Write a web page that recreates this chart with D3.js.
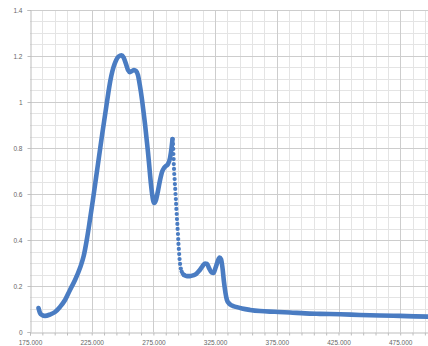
<!DOCTYPE html>
<html>
<head>
<meta charset="utf-8">
<script src="https://cdn.jsdelivr.net/npm/d3@7"></script>
<style>
  html, body { margin: 0; padding: 0; background: #fff; }
  svg { display: block; font-family: "Liberation Sans", Arial, sans-serif; }
</style>
</head>
<body>
<svg id="chart" width="428" height="346"></svg>
<script>
// UV absorbance spectrum: wavelength (nm) and absorbance readings
const wavelength = [
  181.9, 183.1, 184.7, 187.2, 191.2, 195.3, 199.3, 203.4, 207.4, 211.5,
  215.5, 218.5, 221.0, 223.5, 226.0, 228.5, 231.0, 233.5, 236.0, 238.2,
  240.0, 241.8, 243.4, 245.0, 246.8, 249.2, 250.8,
  252.8, 254.4, 256.0, 257.7, 259.3, 260.9, 262.5, 264.1, 265.8, 267.0,
  268.2, 269.4, 270.6, 271.8, 273.1, 274.3, 275.5, 277.1, 278.7, 280.4,
  282.0, 283.6, 285.2, 286.8, 288.5, 289.7, 290.5,
  290.9, 291.1, 291.2, 291.4, 291.5, 291.7, 291.9, 292.2, 292.4, 292.7,
  292.9, 293.2, 293.4, 293.6, 293.9, 294.1, 294.4, 294.6, 294.9, 295.1,
  295.3, 295.6, 295.9, 296.2, 296.6, 297.2, 297.9, 298.7,
  299.8, 302.2, 304.7, 307.1, 309.5, 311.9, 314.4, 316.8, 318.4, 320.1,
  322.1, 323.7, 325.3, 326.9, 328.6, 329.8, 331.0, 332.2, 333.4, 334.6,
  336.3, 338.7, 341.9, 346.8, 353.3, 361.4, 373.5, 385.7, 397.9, 410.0,
  426.2, 442.4, 458.6, 474.8, 487.0, 497.5
];
const absorbance = [
  0.104, 0.083, 0.074, 0.070, 0.076, 0.087, 0.109, 0.139, 0.183, 0.226,
  0.278, 0.330, 0.400, 0.485, 0.575, 0.670, 0.765, 0.860, 0.950, 1.030,
  1.090, 1.135, 1.163, 1.184, 1.198, 1.203, 1.194,
  1.165, 1.139, 1.130, 1.135, 1.139, 1.135, 1.117, 1.070, 1.009, 0.957,
  0.904, 0.843, 0.783, 0.713, 0.639, 0.587, 0.561, 0.574, 0.613, 0.661,
  0.696, 0.713, 0.722, 0.730, 0.757, 0.800, 0.839,
  0.817, 0.796, 0.774, 0.752, 0.730, 0.709, 0.687, 0.665, 0.643, 0.622,
  0.600, 0.578, 0.557, 0.535, 0.513, 0.491, 0.470, 0.448, 0.426, 0.404,
  0.383, 0.361, 0.339, 0.317, 0.296, 0.276, 0.263, 0.254,
  0.248, 0.243, 0.243, 0.246, 0.252, 0.265, 0.283, 0.298, 0.296, 0.278,
  0.259, 0.257, 0.278, 0.304, 0.324, 0.317, 0.278, 0.217, 0.170, 0.139,
  0.124, 0.115, 0.109, 0.102, 0.096, 0.091, 0.088, 0.085, 0.081, 0.079,
  0.077, 0.074, 0.072, 0.070, 0.068, 0.067
];

// the steep drop after the 290 nm band: samples are far apart there,
// so they show as separate markers instead of a continuous trace
const fallStart = 290.5;
const fallEnd = 299.8;

const xTickValues = [175, 225, 275, 325, 375, 425, 475];
const xTickLabels = ["175.000", "225.000", "275.000", "325.000", "375.000", "425.000", "475.000"];
const yTickValues = [0, 0.2, 0.4, 0.6, 0.8, 1, 1.2, 1.4];
const yTickLabels = ["0", "0.2", "0.4", "0.6", "0.8", "1", "1.2", "1.4"];

(function draw() {
  const svg = d3.select("#chart");
  const W = 428;
  const mLeft = 30, mTop = 10, mBottom = 332;

  const x = d3.scaleLinear().domain([175, 500]).range([mLeft, mLeft + 325 * 1.234]);
  const y = d3.scaleLinear().domain([0, 1.4]).range([mBottom, mTop]);
  const px = v => Math.round(v) + 0.5;

  // minor grid
  const minorX = d3.range(185, 500, 10).filter(v => (v - 175) % 50 !== 0);
  const minorY = d3.range(1, 28).map(i => i * 0.05).filter((v, i) => (i + 1) % 4 !== 0);

  const grid = svg.append("g");
  grid.selectAll(".mx").data(minorX).join("line")
    .attr("x1", d => px(x(d))).attr("x2", d => px(x(d)))
    .attr("y1", mTop).attr("y2", mBottom)
    .attr("stroke", "#e4e4e4").attr("stroke-width", 1);
  grid.selectAll(".my").data(minorY).join("line")
    .attr("x1", mLeft).attr("x2", W)
    .attr("y1", d => px(y(d))).attr("y2", d => px(y(d)))
    .attr("stroke", "#e4e4e4").attr("stroke-width", 1);

  // major grid
  grid.selectAll(".Mx").data(xTickValues.filter(v => v > 175)).join("line")
    .attr("x1", d => px(x(d))).attr("x2", d => px(x(d)))
    .attr("y1", mTop).attr("y2", mBottom)
    .attr("stroke", "#cdcdcd").attr("stroke-width", 1);
  grid.selectAll(".My").data(yTickValues.filter(v => v > 0)).join("line")
    .attr("x1", mLeft).attr("x2", W)
    .attr("y1", d => px(y(d))).attr("y2", d => px(y(d)))
    .attr("stroke", "#cdcdcd").attr("stroke-width", 1);

  // axes
  const xAxis = d3.axisBottom(x)
    .tickValues(d3.range(175, 500, 10))
    .tickSize(3)
    .tickFormat(d => {
      const i = xTickValues.indexOf(d);
      return i >= 0 ? xTickLabels[i] : "";
    });
  const gx = svg.append("g").attr("transform", `translate(0,${px(mBottom)})`).call(xAxis);
  gx.select(".domain").attr("stroke", "#bdbdbd");
  gx.selectAll(".tick line").attr("stroke", "#bdbdbd");
  gx.selectAll(".tick text").attr("fill", "#666").attr("font-size", 6.5).attr("dy", 0).attr("y", 12);

  const yAxis = d3.axisLeft(y)
    .tickValues(yTickValues)
    .tickSize(3)
    .tickFormat((d, i) => yTickLabels[i]);
  const gy = svg.append("g").attr("transform", `translate(${px(mLeft)},0)`).call(yAxis);
  gy.select(".domain").attr("stroke", "#bdbdbd");
  gy.selectAll(".tick line").attr("stroke", "#bdbdbd");
  gy.selectAll(".tick text").attr("fill", "#666").attr("font-size", 6.5).attr("x", -8);

  // spectrum
  const pts = wavelength.map((w, i) => ({ w, a: absorbance[i] }));
  const blue = "#4a7cc2";

  const line = d3.line()
    .defined(d => !(d.w > fallStart && d.w < fallEnd))
    .x(d => x(d.w)).y(d => y(d.a))
    .curve(d3.curveMonotoneX);

  svg.append("path")
    .datum(pts)
    .attr("d", line)
    .attr("fill", "none")
    .attr("stroke", blue)
    .attr("stroke-width", 4.6)
    .attr("stroke-linecap", "round")
    .attr("stroke-linejoin", "round");

  svg.append("g").selectAll("circle")
    .data(pts.filter(d => d.w >= fallStart && d.w <= fallEnd))
    .join("circle")
    .attr("cx", d => x(d.w)).attr("cy", d => y(d.a))
    .attr("r", 2.1)
    .attr("fill", blue);
})();
</script>
</body>
</html>
